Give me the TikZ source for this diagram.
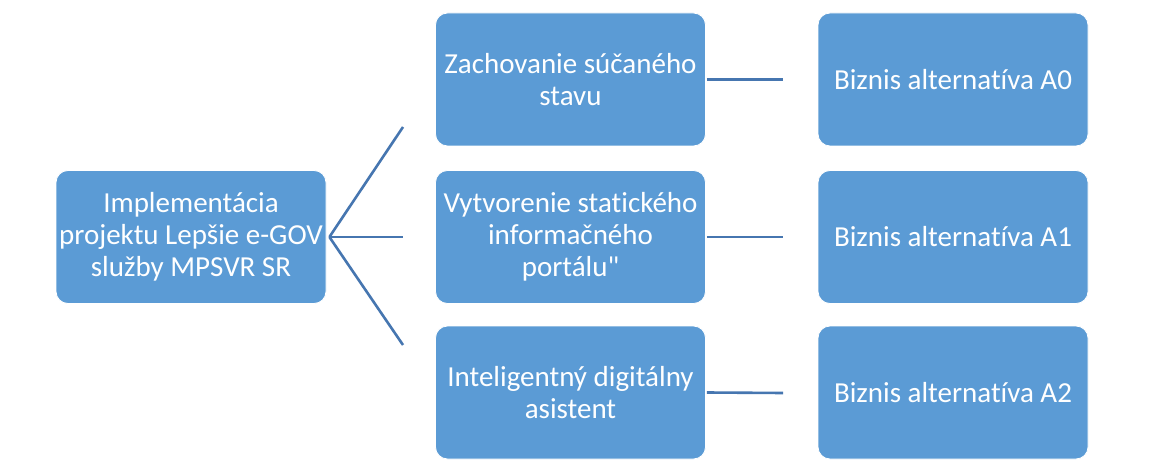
\documentclass[tikz,border=0pt]{standalone}
\usepackage{fontspec}
\setmainfont{Carlito}[Ligatures={NoCommon,TeXOff}]
\definecolor{boxblue}{RGB}{91,155,213}
\definecolor{lineblue}{RGB}{70,118,176}
\begin{document}
\begin{tikzpicture}[x=1pt,y=-1pt,
  box/.style={fill=boxblue, draw=white, line width=0.8pt, rounded corners=12pt,
    minimum width=270pt, minimum height=133pt, align=center, text=white,
    font=\fontsize{29}{32}\selectfont, inner sep=0pt},
  conn/.style={draw=lineblue, line width=2.6pt}]
\useasboundingbox (0,0) rectangle (1161,470);
\fill[white] (0,0) rectangle (1161,470);
\node[box] (root) at (191,237) {Implementácia\\projektu Lepšie e-GOV\\služby MPSVR SR};
\node[box] (m0) at (570.5,79.5) {Zachovanie súčaného\\stavu};
\node[box] (m1) at (570.5,237) {Vytvorenie statického\\informačného\\portálu"};
\node[box] (m2) at (570.5,392.5) {Inteligentný digitálny\\asistent};
\node[box] (r0) at (953,79.5) {Biznis alternatíva A0};
\node[box] (r1) at (953,237) {Biznis alternatíva A1};
\node[box] (r2) at (953,392.5) {Biznis alternatíva A2};
\coordinate (b0) at (403,127);
\coordinate (b1) at (403,237);
\coordinate (b2) at (403,345);
\coordinate (e0) at (783,79.5);
\coordinate (e1) at (783,237);
\coordinate (e2) at (783,393);
\draw[conn] ([xshift=3pt]root.east) -- (b0);
\draw[conn] ([xshift=3pt]root.east) -- (b1);
\draw[conn] ([xshift=3pt]root.east) -- (b2);
\draw[conn] ([xshift=1pt]m0.east) -- (e0);
\draw[conn] ([xshift=1pt]m1.east) -- (e1);
\draw[conn] ([xshift=1pt]m2.east) -- (e2);
\end{tikzpicture}
\end{document}
